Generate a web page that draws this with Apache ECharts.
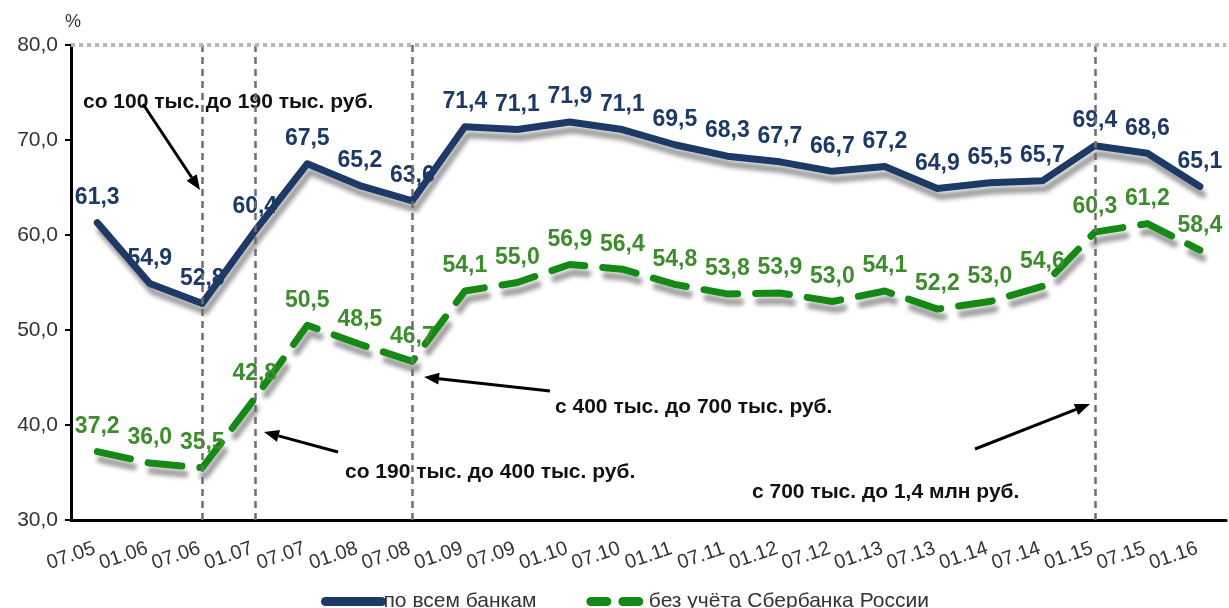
<!DOCTYPE html>
<html>
<head>
<meta charset="utf-8">
<script src="https://cdn.jsdelivr.net/npm/echarts@6/dist/echarts.min.js"></script>
<style>
  html, body { margin: 0; padding: 0; background: #fff; }
  #chart { width: 1229px; height: 608px; }
</style>
</head>
<body>
<div id="chart"></div>
<script>
// Half-year dates (month.year)
const categories = ['07.05','01.06','07.06','01.07','07.07','01.08','07.08','01.09','07.09','01.10','07.10',
                    '01.11','07.11','01.12','07.12','01.13','07.13','01.14','07.14','01.15','07.15','01.16'];
// Share, %, all banks
const allBanks = [61.3,54.9,52.8,60.4,67.5,65.2,63.6,71.4,71.1,71.9,71.1,69.5,68.3,67.7,66.7,67.2,64.9,65.5,65.7,69.4,68.6,65.1];
// Share, %, excluding Sberbank
const exSberbank = [37.2,36.0,35.5,42.8,50.5,48.5,46.7,54.1,55.0,56.9,56.4,54.8,53.8,53.9,53.0,54.1,52.2,53.0,54.6,60.3,61.2,58.4];
// Dates when the insured deposit limit was raised
const limitDates = ['07.06','01.07','07.08','01.15'];
const seriesNames = ['по всем банкам', 'без учёта Сбербанка России'];
const yMin = 30, yMax = 80, yStep = 10;

const FONT = '"Liberation Sans", Arial, sans-serif';
const BLUE = '#1d3966';
const GREEN = '#148a14';
const GREEN_TXT = '#3d8d2d';
const fmt = v => v.toFixed(1).replace('.', ',');

const chart = echarts.init(document.getElementById('chart'));

function arrow(x1, y1, x2, y2) {
  const ang = Math.atan2(y2 - y1, x2 - x1);
  const len = 15, half = 6;
  const bx = x2 - len * Math.cos(ang), by = y2 - len * Math.sin(ang);
  const px = -Math.sin(ang) * half, py = Math.cos(ang) * half;
  return [
    { type: 'line', shape: { x1, y1, x2: bx, y2: by }, style: { stroke: '#000', lineWidth: 3 } },
    { type: 'polygon', shape: { points: [[x2, y2], [bx + px, by + py], [bx - px, by - py]] }, style: { fill: '#000' } }
  ];
}
function note(x, y, text) {
  return { type: 'text', left: x, top: y,
    style: { text, fill: '#111', font: 'bold 21px ' + FONT, textVerticalAlign: 'middle' } };
}

const shadow = { shadowColor: 'rgba(0,0,0,0.38)', shadowBlur: 4, shadowOffsetX: 3, shadowOffsetY: 8 };
const dataLabel = color => ({
  show: true, position: 'top', distance: 13, formatter: p => fmt(p.value),
  fontFamily: FONT, fontSize: 23, fontWeight: 'bold', color
});
const noShadow = { shadowBlur: 0, shadowOffsetX: 0, shadowOffsetY: 0, shadowColor: 'rgba(0,0,0,0)' };

const option = {
  animation: false,
  grid: { left: 71, right: 1, top: 45, bottom: 88 },
  legend: {
    left: 316, top: 586, itemWidth: 56, itemHeight: 12, itemGap: 50,
    itemStyle: { opacity: 0 },
    textStyle: { fontFamily: FONT, fontSize: 21, color: '#333', padding: [0, 0, 0, -3] },
    data: [
      { name: seriesNames[0], lineStyle: Object.assign({ width: 9, cap: 'round', type: 'solid' }, noShadow) },
      { name: seriesNames[1], lineStyle: Object.assign({ width: 9, cap: 'round', type: [16, 16] }, noShadow) }
    ]
  },
  xAxis: [
    {
      type: 'category', data: categories, boundaryGap: true,
      axisLine: { lineStyle: { color: '#000', width: 3 } },
      axisTick: { length: 6, lineStyle: { color: '#000', width: 2 } },
      axisLabel: { show: false }
    },
    {
      // labels sit on the tick marks between half-years
      type: 'category', data: categories.concat(['']), boundaryGap: false, position: 'bottom',
      axisLine: { show: false }, axisTick: { show: false },
      axisLabel: {
        interval: 0, rotate: 19, align: 'center', verticalAlign: 'middle', margin: 36,
        fontFamily: FONT, fontSize: 20, color: '#333'
      }
    }
  ],
  yAxis: {
    type: 'value', min: yMin, max: yMax, interval: yStep,
    name: '%', nameGap: 14, nameTextStyle: { fontFamily: FONT, fontSize: 18, color: '#333', align: 'left', padding: [0, 0, 0, -6] },
    axisLine: { show: true, lineStyle: { color: '#000', width: 3 } },
    axisTick: { show: true, length: 6, lineStyle: { color: '#000', width: 2 } },
    axisLabel: { formatter: v => fmt(v), fontFamily: FONT, fontSize: 21, color: '#333', margin: 13 },
    splitLine: { show: false }
  },
  series: [
    {
      name: seriesNames[0], type: 'line', data: allBanks, xAxisIndex: 0,
      symbol: 'circle', symbolSize: 1, showAllSymbol: true, z: 3,
      lineStyle: Object.assign({ color: BLUE, width: 7, cap: 'round', join: 'round' }, shadow),
      itemStyle: { color: 'rgba(0,0,0,0)' },
      label: dataLabel(BLUE),
      labelLayout: { hideOverlap: false },
      markLine: {
        silent: true, symbol: 'none', label: { show: false },
        data: limitDates.map(d => ({ xAxis: d, lineStyle: { color: '#6f6f6f', width: 2.5, type: [7, 5] } }))
          .concat([{ yAxis: yMax, lineStyle: { color: '#b8b8b8', width: 4, type: 'dotted' } }])
      }
    },
    {
      name: seriesNames[1], type: 'line', data: exSberbank, xAxisIndex: 0,
      symbol: 'circle', symbolSize: 1, showAllSymbol: true, z: 3,
      lineStyle: Object.assign({ color: GREEN, width: 7, cap: 'round', join: 'round', type: [34, 18] }, shadow),
      itemStyle: { color: 'rgba(0,0,0,0)' },
      label: dataLabel(GREEN_TXT),
      labelLayout: { hideOverlap: false }
    }
  ],
  graphic: [
    note(83, 92, 'со 100 тыс. до 190 тыс. руб.'),
    note(345, 462, 'со 190 тыс. до 400 тыс. руб.'),
    note(555, 397, 'с 400 тыс. до 700 тыс. руб.'),
    note(752, 482, 'с 700 тыс. до 1,4 млн руб.')
  ].concat(arrow(143, 104, 200, 190), arrow(338, 452, 264, 432),
           arrow(550, 391, 424, 377), arrow(975, 449, 1090, 404))
};

chart.setOption(option);
</script>
</body>
</html>
